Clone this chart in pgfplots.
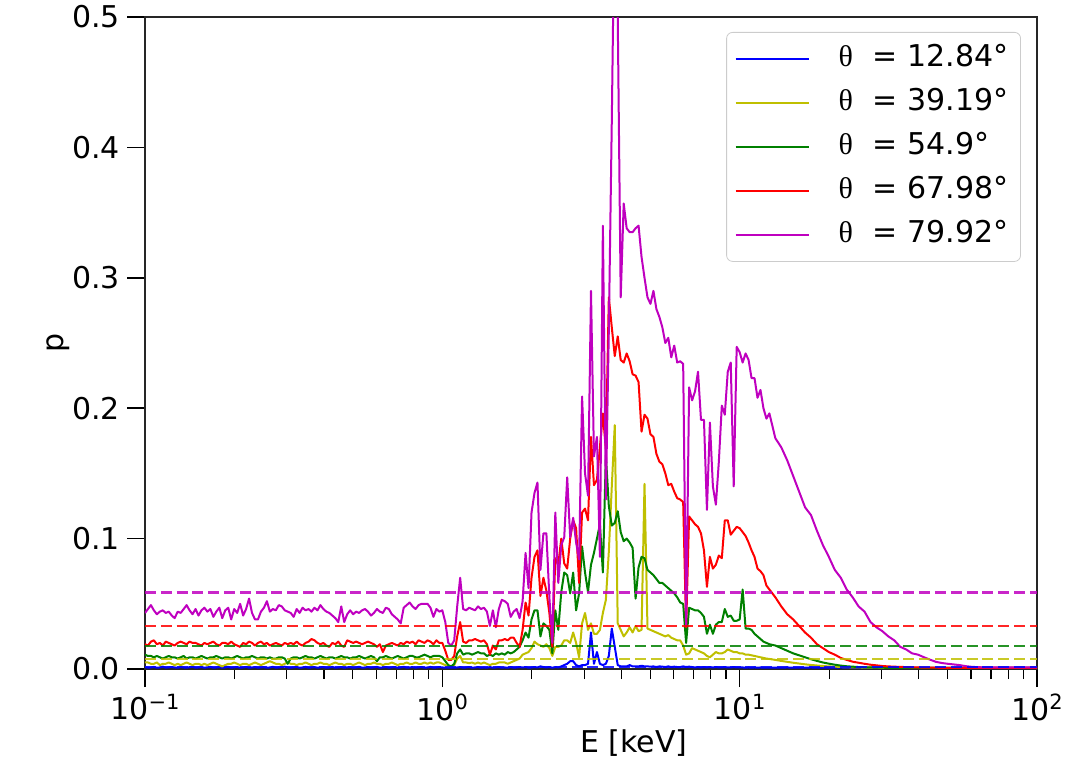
\documentclass[border=0pt]{standalone}
\usepackage{fontspec}
\setmainfont{DejaVu Sans}
\newfontfamily\thetafont{Liberation Serif}
\usepackage{pgfplots}
\pgfplotsset{compat=1.18}
\usepackage{pgfplotstable}

\definecolor{colB}{rgb}{0,0,1}
\definecolor{colY}{rgb}{0.75,0.75,0}
\definecolor{colG}{rgb}{0,0.5,0}
\definecolor{colR}{rgb}{1,0,0}
\definecolor{colM}{rgb}{0.75,0,0.75}

\newcommand{\tf}{\fontsize{15}{18}\selectfont}
\newcommand{\ex}[1]{10\raisebox{5.2pt}{\fontsize{10.5}{12}\selectfont #1}}
\newcommand{\thlab}{{\thetafont θ}\hspace{10pt}}

\pgfplotstableread{
l b y g r m
-1.00 .0015 .005 .011 .019 .043
-0.99 .001 .005 .010 .018 .046
-0.98 .0012 .004 .010 .021 .049
-0.97 .0016 .004 .009 .022 .045
-0.96 .001 .005 .010 .019 .042
-0.95 .0012 .003 .009 .020 .044
-0.94 .0018 .004 .008 .018 .045
-0.93 .001 .004 .009 .021 .043
-0.92 .0013 .005 .010 .020 .044
-0.91 .0015 .004 .009 .019 .041
-0.90 .0012 .003 .009 .018 .039
-0.89 .001 .004 .008 .020 .044
-0.88 .0015 .003 .009 .021 .043
-0.87 .0012 .004 .010 .020 .046
-0.86 .001 .005 .008 .019 .049
-0.85 .0014 .004 .009 .021 .045
-0.84 .0017 .003 .009 .020 .042
-0.83 .001 .004 .008 .020 .046
-0.82 .0012 .004 .009 .019 .041
-0.81 .0015 .003 .010 .018 .045
-0.80 .001 .004 .009 .020 .047
-0.79 .0013 .003 .008 .019 .044
-0.78 .0016 .004 .009 .020 .046
-0.77 .001 .005 .009 .021 .040
-0.76 .0012 .004 .010 .019 .044
-0.75 .0015 .003 .009 .018 .047
-0.74 .001 .002 .008 .020 .039
-0.73 .0012 .003 .009 .020 .045
-0.72 .0017 .004 .009 .019 .047
-0.71 .001 .004 .008 .021 .038
-0.70 .0013 .005 .009 .019 .046
-0.69 .0015 .004 .010 .018 .043
-0.68 .001 .003 .009 .017 .050
-0.67 .0012 .004 .008 .020 .041
-0.66 .0016 .004 .009 .019 .046
-0.65 .001 .003 .009 .021 .054
-0.64 .0012 .004 .010 .020 .043
-0.63 .0015 .005 .009 .018 .038
-0.62 .001 .004 .008 .020 .038
-0.61 .0013 .003 .009 .021 .044
-0.60 .0014 .004 .009 .019 .047
-0.59 .001 .005 .008 .020 .052
-0.58 .0012 .006 .009 .018 .044
-0.57 .0017 .005 .008 .019 .046
-0.56 .001 .004 .008 .020 .045
-0.55 .0012 .004 .009 .019 .049
-0.54 .0015 .003 .009 .018 .048
-0.53 .0018 .004 .008 .020 .045
-0.52 .0012 .005 .004 .019 .044
-0.51 .001 .004 .008 .020 .043
-0.50 .0013 .004 .009 .019 .040
-0.49 .0015 .003 .009 .021 .046
-0.48 .001 .004 .008 .019 .043
-0.47 .0012 .004 .009 .018 .047
-0.46 .0016 .005 .010 .020 .045
-0.45 .001 .004 .009 .021 .046
-0.44 .0012 .003 .009 .023 .044
-0.43 .0015 .004 .008 .022 .047
-0.42 .001 .004 .009 .020 .045
-0.41 .0013 .005 .010 .019 .049
-0.40 .0015 .004 .009 .020 .046
-0.39 .001 .004 .008 .018 .044
-0.38 .0012 .003 .009 .017 .043
-0.37 .0016 .004 .009 .020 .041
-0.36 .001 .005 .008 .019 .039
-0.35 .0012 .004 .009 .021 .036
-0.34 .0015 .004 .010 .018 .048
-0.33 .001 .003 .009 .017 .036
-0.32 .0013 .004 .009 .022 .042
-0.31 .0015 .004 .008 .021 .045
-0.30 .001 .003 .009 .020 .042
-0.29 .0012 .004 .009 .021 .044
-0.28 .0017 .005 .010 .020 .043
-0.27 .001 .004 .009 .019 .045
-0.26 .0012 .003 .008 .020 .046
-0.25 .0015 .004 .009 .021 .044
-0.24 .001 .004 .010 .020 .041
-0.23 .0013 .005 .009 .019 .043
-0.22 .0016 .004 .006 .017 .046
-0.21 .001 .004 .009 .019 .044
-0.20 .0012 .003 .009 .013 .043
-0.19 .0015 .004 .010 .018 .047
-0.18 .001 .004 .009 .019 .046
-0.17 .0013 .005 .008 .020 .042
-0.16 .0015 .004 .009 .019 .040
-0.15 .001 .003 .010 .018 .038
-0.14 .0012 .004 .009 .020 .035
-0.13 .0017 .004 .008 .019 .047
-0.12 .001 .005 .009 .021 .049
-0.11 .0012 .004 .010 .020 .051
-0.10 .0015 .004 .010 .021 .048
-0.09 .001 .005 .009 .019 .046
-0.08 .0013 .004 .009 .022 .049
-0.07 .0015 .004 .010 .021 .050
-0.06 .001 .005 .011 .020 .050
-0.05 .0012 .004 .010 .022 .050
-0.04 .0016 .005 .009 .021 .047
-0.03 .001 .004 .010 .019 .040
-0.02 .0012 .005 .010 .022 .046
-0.01 .0015 .005 .010 .020 .044
0.00 .0012 .004 .009 .020 .045
0.01 .001 .003 .006 .014 .036
0.02 .001 .002 .003 .007 .020
0.03 .001 .002 .002 .007 .018
0.04 .001 .003 .004 .010 .022
0.05 .0012 .008 .012 .025 .048
0.06 .0015 .010 .015 .036 .070
0.07 .001 .005 .011 .021 .046
0.08 .0012 .005 .012 .020 .045
0.09 .0015 .0045 .012 .022 .047
0.10 .001 .005 .011 .022 .046
0.11 .0012 .004 .012 .023 .045
0.12 .0015 .005 .013 .022 .048
0.13 .001 .004 .012 .021 .046
0.14 .0012 .005 .012 .022 .047
0.15 .001 .004 .010 .019 .044
0.16 .0015 .003 .011 .011 .033
0.17 .001 .004 .010 .018 .045
0.18 .0012 .004 .012 .015 .032
0.19 .0015 .005 .011 .022 .046
0.20 .001 .005 .012 .022 .053
0.21 .0012 .005 .011 .023 .052
0.22 .001 .004 .013 .022 .050
0.23 .0015 .005 .012 .024 .040
0.24 .001 .006 .013 .024 .044
0.25 .0012 .007 .015 .020 .046
0.26 .0015 .008 .017 .017 .039
0.27 .0012 .011 .022 .030 .052
0.28 .0015 .012 .028 .051 .089
0.29 .001 .013 .024 .041 .062
0.30 .0012 .016 .038 .070 .120
0.31 .0015 .021 .045 .086 .135
0.32 .0012 .019 .045 .091 .143
0.33 .002 .018 .025 .056 .076
0.34 .0015 .017 .035 .070 .104
0.35 .0012 .019 .033 .060 .104
0.36 .0015 .016 .030 .043 .055
0.37 .001 .010 .012 .017 .020
0.38 .0015 .017 .045 .085 .120
0.39 .0012 .017 .030 .080 .066
0.40 .002 .018 .059 .100 .095
0.41 .003 .022 .074 .081 .101
0.42 .004 .022 .072 .077 .147
0.43 .006 .020 .058 .100 .101
0.44 .006 .028 .074 .114 .116
0.45 .003 .020 .045 .108 .097
0.46 .002 .009 .058 .066 .084
0.47 .003 .035 .094 .120 .209
0.48 .003 .043 .074 .123 .150
0.49 .004 .030 .059 .114 .133
0.50 .028 .035 .080 .178 .290
0.51 .004 .027 .089 .141 .163
0.52 .013 .027 .100 .145 .178
0.53 .004 .030 .111 .170 .086
0.54 .003 .043 .074 .196 .340
0.55 .004 .053 .164 .168 .130
0.56 .010 .090 .125 .285 .260
0.57 .031 .140 .110 .262 .420
0.58 .017 .187 .112 .240 .600
0.59 .003 .035 .121 .255 .500
0.60 .002 .030 .105 .237 .285
0.61 .002 .025 .098 .235 .357
0.62 .002 .028 .100 .242 .338
0.63 .003 .032 .097 .236 .335
0.64 .002 .028 .093 .226 .335
0.65 .002 .033 .054 .225 .338
0.66 .002 .029 .078 .220 .340
0.67 .0025 .030 .086 .182 .316
0.68 .002 .142 .085 .195 .300
0.69 .002 .031 .076 .192 .285
0.70 .0018 .030 .074 .180 .280
0.71 .002 .029 .072 .178 .290
0.72 .0015 .028 .069 .165 .276
0.73 .002 .027 .066 .159 .270
0.74 .0018 .026 .066 .157 .262
0.75 .0015 .025 .064 .150 .250
0.76 .002 .026 .062 .141 .254
0.77 .0015 .024 .060 .142 .239
0.78 .0018 .023 .058 .136 .248
0.79 .0015 .022 .055 .131 .235
0.80 .0015 .022 .051 .130 .236
0.81 .002 .018 .050 .128 .234
0.82 .0015 .011 .020 .032 .033
0.83 .0018 .012 .047 .117 .216
0.84 .0015 .016 .046 .114 .206
0.85 .0012 .015 .045 .111 .213
0.86 .0015 .014 .045 .109 .228
0.87 .0012 .013 .043 .104 .191
0.88 .0015 .012 .040 .091 .191
0.89 .0012 .010 .027 .063 .122
0.90 .0015 .009 .034 .086 .189
0.91 .0012 .011 .027 .077 .140
0.92 .0015 .013 .034 .080 .126
0.93 .0012 .012 .036 .087 .159
0.94 .0012 .012 .036 .085 .202
0.95 .0015 .013 .046 .114 .195
0.96 .0012 .015 .040 .114 .228
0.97 .0012 .014 .041 .103 .235
0.98 .0015 .013 .037 .106 .140
0.99 .0012 .013 .037 .109 .247
1.00 .0012 .012 .038 .108 .243
1.01 .0012 .012 .061 .105 .235
1.02 .001 .011 .031 .102 .242
1.03 .0012 .011 .031 .097 .237
1.04 .001 .0105 .030 .091 .223
1.05 .0012 .010 .027 .086 .223
1.06 .001 .0095 .025 .077 .208
1.07 .0012 .009 .023 .075 .214
1.08 .001 .0085 .021 .072 .200
1.09 .001 .008 .020 .064 .192
1.10 .001 .0077 .019 .061 .196
1.12 .001 .0070 .018 .055 .177
1.14 .001 .0062 .016 .048 .170
1.16 .0012 .0055 .014 .042 .160
1.18 .001 .0048 .012 .038 .148
1.20 .001 .0042 .0105 .033 .136
1.22 .001 .0036 .009 .028 .124
1.24 .0012 .0031 .0075 .024 .118
1.26 .001 .0027 .0062 .019 .106
1.28 .001 .0023 .0050 .016 .095
1.30 .001 .0020 .0041 .013 .086
1.32 .001 .0018 .0033 .011 .076
1.34 .0012 .0016 .0026 .0085 .070
1.36 .001 .0014 .0021 .0070 .061
1.38 .001 .0013 .0018 .0056 .055
1.40 .001 .0012 .0015 .0048 .048
1.42 .001 .0011 .0013 .0040 .044
1.44 .001 .0010 .0012 .0033 .036
1.46 .001 .0010 .0011 .0028 .032
1.48 .001 .0009 .0010 .0023 .029
1.50 .001 .0009 .0009 .0020 .025
1.52 .001 .0009 .0009 .0018 .022
1.54 .001 .0008 .0008 .0016 .017
1.56 .001 .0008 .0008 .0015 .015
1.58 .001 .0008 .0008 .0013 .012
1.60 .0009 .0008 .0008 .0012 .011
1.62 .0009 .0008 .0008 .0011 .009
1.64 .0009 .0008 .0008 .0010 .0072
1.66 .0009 .0008 .0008 .0010 .0055
1.68 .0009 .0008 .0008 .0009 .0046
1.70 .0009 .0008 .0008 .0009 .0040
1.72 .0009 .0008 .0008 .0009 .0035
1.74 .0009 .0008 .0008 .0009 .0030
1.76 .0009 .0008 .0008 .0009 .0022
1.78 .0009 .0008 .0008 .0009 .0017
1.80 .0009 .0008 .0008 .0009 .0014
1.84 .0009 .0008 .0008 .0009 .0012
1.88 .0009 .0008 .0008 .0009 .0012
1.92 .0009 .0008 .0008 .0009 .0012
1.96 .0009 .0008 .0008 .0009 .0012
2.00 .0009 .0008 .0008 .0009 .0012
}\data

\pgfplotsset{
  series/.style={draw=#1, line width=1pt, line join=round,
    legend image code/.code={\path (0pt,0pt) -- (36.5pt,0pt); \draw[##1] (3.5pt,0pt) -- (35pt,0pt);}},
  ref/.style={draw=#1, opacity=0.85, line width=1.1pt, dash pattern=on 5.5pt off 2.4pt, forget plot},
}

\begin{document}
\begin{tikzpicture}
\begin{axis}[
  name=ax,
  xmode=log,
  scale only axis, width=446pt, height=326pt,
  xmin=0.1, xmax=100, ymin=0, ymax=0.5,
  xtick={0.1,1,10,100},
  xticklabels={\ex{−1},\ex{0},\ex{1},\ex{2}},
  minor xtick={0.2,0.3,0.4,0.5,0.6,0.7,0.8,0.9,2,3,4,5,6,7,8,9,20,30,40,50,60,70,80,90},
  ytick={0,0.1,0.2,0.3,0.4,0.5},
  yticklabels={0.0,0.1,0.2,0.3,0.4,0.5},
  tick align=outside, tick pos=left,
  major tick length=9pt, minor tick length=5pt,
  major tick style={line width=0.8pt, black},
  minor tick style={line width=0.6pt, black},
  axis line style={line width=0.8pt, black!85},
  tick label style={font=\tf},
  label style={font=\tf},
  xlabel={E [keV]}, ylabel={p},
  xlabel style={at={(axis description cs:0.548,-0.1288)}, anchor=base},
  ylabel style={at={(axis description cs:-0.0975,0.5)}, anchor=center},
  legend style={at={(axis description cs:0.982,0.977)}, anchor=north east,
    draw=black!20, rounded corners=3pt, fill=white, fill opacity=0.8, text opacity=1,
    font=\fontsize{15}{17}\selectfont, inner xsep=4pt, inner ysep=4.5pt,
    row sep=4.5pt, column sep=12.5pt,
    nodes={inner sep=2pt, text height=10.5pt, text depth=3pt}},
  legend cell align=left,
]
\addplot[series=colB] table[x expr={10^(\thisrow{l})}, y=b] {\data};
\addlegendentry{\thlab= 12.84°}
\addplot[series=colY] table[x expr={10^(\thisrow{l})}, y=y] {\data};
\addlegendentry{\thlab= 39.19°}
\addplot[series=colG] table[x expr={10^(\thisrow{l})}, y=g] {\data};
\addlegendentry{\thlab= 54.9°}
\addplot[series=colR] table[x expr={10^(\thisrow{l})}, y=r] {\data};
\addlegendentry{\thlab= 67.98°}
\addplot[series=colM] table[x expr={10^(\thisrow{l})}, y=m] {\data};
\addlegendentry{\thlab= 79.92°}
\addplot[ref=colB] coordinates {(0.1,0.0014) (100,0.0014)};
\addplot[ref=colY] coordinates {(0.1,0.0079) (100,0.0079)};
\addplot[ref=colG] coordinates {(0.1,0.0179) (100,0.0179)};
\addplot[ref=colR] coordinates {(0.1,0.0332) (100,0.0332)};
\addplot[ref=colM] coordinates {(0.1,0.0586) (100,0.0586)};
\end{axis}
\pgfresetboundingbox
\path[use as bounding box] (ax.south west) ++(-72.5pt,-54pt) rectangle ++(534pt,388.5pt);
\end{tikzpicture}
\end{document}
